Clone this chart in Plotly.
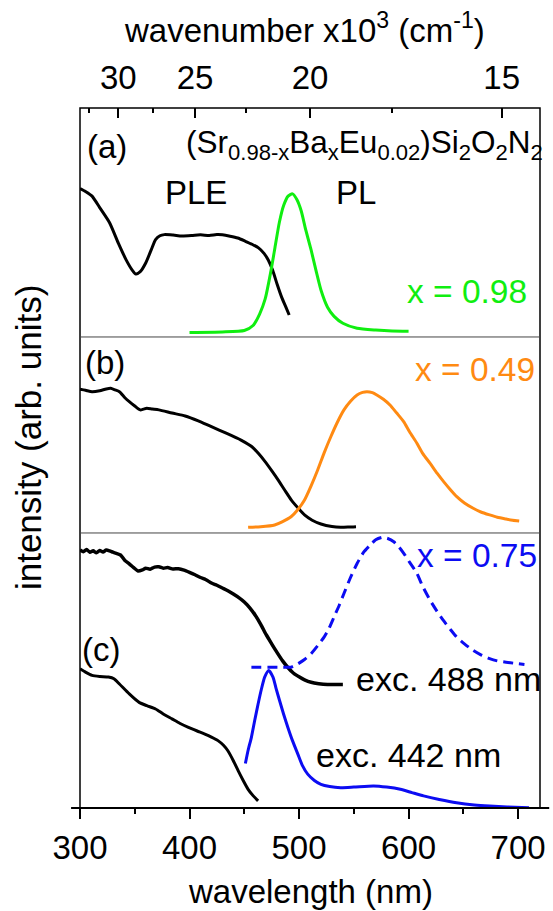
import plotly.graph_objects as go

# ---- spectra: wavelength (nm) and normalised intensity for each panel ----
# (a) x = 0.98
ple_a_nm = [300, 305, 311, 318, 327, 335, 342, 348, 351, 355, 360, 365, 369, 373, 377, 385, 393,
            402, 410, 418, 425, 430, 437, 444, 451, 457, 463, 468, 472, 476, 480, 484, 488, 491]
ple_a = [0.648, 0.635, 0.615, 0.565, 0.499, 0.41, 0.338, 0.29, 0.275, 0.285, 0.323, 0.38, 0.425,
         0.442, 0.447, 0.445, 0.441, 0.443, 0.446, 0.443, 0.447, 0.446, 0.44, 0.432, 0.418, 0.405,
         0.389, 0.365, 0.335, 0.29, 0.23, 0.175, 0.13, 0.096]
pl_a_nm = [400, 430, 450, 458, 464, 469, 474, 478, 482, 486, 490, 494, 498, 502, 506, 511, 516,
           520, 526, 532, 540, 553, 570, 585, 600]
pl_a = [0.02, 0.022, 0.028, 0.05, 0.1, 0.165, 0.28, 0.39, 0.5, 0.575, 0.615, 0.625, 0.6, 0.55,
        0.47, 0.38, 0.28, 0.205, 0.13, 0.09, 0.06, 0.038, 0.03, 0.026, 0.025]

# (b) x = 0.49
ple_b_nm = [300, 305, 311, 318, 324, 328, 332, 336, 341, 345, 350, 355, 358, 361, 366, 372, 384,
            396, 408, 420, 434, 447, 457, 463, 469, 475, 481, 487, 493, 499, 505, 512, 520, 530,
            538, 545, 552]
ple_b = [0.733, 0.728, 0.721, 0.726, 0.735, 0.738, 0.73, 0.721, 0.69, 0.67, 0.648, 0.628, 0.632,
         0.636, 0.632, 0.628, 0.612, 0.597, 0.572, 0.542, 0.508, 0.474, 0.44, 0.405, 0.364, 0.318,
         0.27, 0.218, 0.168, 0.128, 0.092, 0.065, 0.046, 0.033, 0.029, 0.03, 0.032]
pl_b_nm = [453.5, 465, 477.7, 485, 492.7, 499, 505, 511, 517, 523, 529, 535, 541, 547, 553, 558,
           562, 567, 571, 577, 583, 589, 595.5, 601, 607.6, 613, 619.7, 626, 632, 638, 644, 651,
           659, 666, 674, 681, 689, 695, 701]
pl_b = [0.029, 0.032, 0.041, 0.058, 0.083, 0.12, 0.168, 0.24, 0.321, 0.41, 0.491, 0.565, 0.628,
        0.672, 0.704, 0.717, 0.721, 0.716, 0.704, 0.682, 0.653, 0.613, 0.568, 0.515, 0.458, 0.405,
        0.355, 0.305, 0.262, 0.222, 0.185, 0.153, 0.126, 0.107, 0.092, 0.08, 0.071, 0.065, 0.061]

# (c) x = 0.75, excitation spectra and emission under 488 nm and 442 nm excitation
ple_c488_nm = [300, 303, 306, 309, 312, 315, 318, 321, 324, 327, 330, 333, 337, 341, 345, 349, 353,
               357, 360, 364, 368, 372, 376, 380, 385, 390, 395, 400, 405, 410, 415, 420, 425, 430,
               435, 440, 445, 450, 455, 460, 465, 470, 475, 480, 485, 490, 495, 500, 505, 511, 518,
               526, 533, 540]
ple_c488 = [0.938, 0.932, 0.94, 0.93, 0.935, 0.928, 0.936, 0.931, 0.938, 0.935, 0.93, 0.926, 0.92,
            0.9, 0.888, 0.874, 0.862, 0.866, 0.872, 0.868, 0.876, 0.877, 0.872, 0.874, 0.869, 0.87,
            0.865, 0.857, 0.848, 0.838, 0.83, 0.818, 0.81, 0.8, 0.79, 0.778, 0.765, 0.749, 0.728,
            0.701, 0.668, 0.63, 0.597, 0.565, 0.535, 0.51, 0.49, 0.477, 0.466, 0.457, 0.452, 0.449,
            0.449, 0.449]
pl_c488_nm = [456.5, 465, 474.7, 485, 492.8, 498.9, 505, 511, 517, 523, 527, 532, 537, 541, 547,
              553, 559, 565, 570, 576, 581, 586.5, 591, 595.6, 601, 607.6, 613, 619.7, 626, 631.8,
              638, 643.8, 651, 659, 666, 674, 681, 689, 697, 705.8]
pl_c488 = [0.512, 0.512, 0.512, 0.512, 0.512, 0.524, 0.54, 0.561, 0.59, 0.622, 0.65, 0.695, 0.74,
           0.78, 0.838, 0.889, 0.93, 0.956, 0.975, 0.984, 0.98, 0.968, 0.95, 0.926, 0.893, 0.853,
           0.805, 0.755, 0.715, 0.682, 0.65, 0.622, 0.597, 0.573, 0.557, 0.543, 0.535, 0.53, 0.526,
           0.522]
ple_c442_nm = [300, 305, 311, 318, 326, 331, 336, 345, 354, 361, 369, 376, 384, 391, 399, 407, 414,
               420, 426, 431, 435, 440, 444.5, 449, 453.5, 458, 462.6]
ple_c442 = [0.506, 0.494, 0.482, 0.478, 0.476, 0.47, 0.451, 0.415, 0.384, 0.372, 0.36, 0.342,
            0.324, 0.308, 0.293, 0.28, 0.269, 0.258, 0.245, 0.228, 0.208, 0.172, 0.135, 0.1, 0.068,
            0.045, 0.026]
pl_c442_nm = [451, 453.5, 456.5, 459.5, 462.6, 465.5, 468.6, 472.3, 476.2, 479, 482.2, 486, 489.8,
              494, 498.9, 503, 507.9, 514, 520, 528, 538, 550, 568, 580, 592.5, 603, 613.7, 628,
              643.8, 660, 674, 690, 710]
pl_c442 = [0.162, 0.21, 0.257, 0.318, 0.378, 0.43, 0.476, 0.5, 0.476, 0.435, 0.391, 0.34, 0.293,
           0.245, 0.196, 0.155, 0.123, 0.1, 0.086, 0.078, 0.074, 0.076, 0.08, 0.076, 0.068, 0.056,
           0.044, 0.031, 0.019, 0.011, 0.007, 0.004, 0.001]

# axis ticks
wl_ticks = [300, 400, 500, 600, 700]
wl_minor = [350, 450, 550, 650]
wn_ticks = [30, 25, 20, 15]            # x10^3 cm^-1
wn_minor = [32.5, 27.5, 22.5, 17.5]

GREEN = "#10ee10"
ORANGE = "#ff8a12"
BLUE = "#0c0cf2"
BLACK = "#000000"
FONT = "Liberation Sans, Arial, Helvetica, sans-serif"

fig = go.Figure()

def add(xs, ys, color, yaxis, dash="solid", width=3):
    fig.add_trace(go.Scatter(x=xs, y=ys, mode="lines", xaxis="x", yaxis=yaxis,
                             line=dict(color=color, width=width, dash=dash, shape="spline",
                                       smoothing=0.6),
                             showlegend=False, hoverinfo="skip"))

add(ple_a_nm, ple_a, BLACK, "y")
add(pl_a_nm, pl_a, GREEN, "y")
add(ple_b_nm, ple_b, BLACK, "y2")
add(pl_b_nm, pl_b, ORANGE, "y2")
add(ple_c488_nm, ple_c488, BLACK, "y3", width=3.5)
add(pl_c488_nm, pl_c488, BLUE, "y3", dash="10px,6px")
add(ple_c442_nm, ple_c442, BLACK, "y3")
add(pl_c442_nm, pl_c442, BLUE, "y3")

# invisible trace so the top wavenumber axis is drawn
fig.add_trace(go.Scatter(x=[300], y=[0], xaxis="x2", yaxis="y", mode="markers",
                         marker=dict(opacity=0), showlegend=False, hoverinfo="skip"))

# panel domains (bottom to top: c, b, a)
d_c = [0.0, 0.3929]
d_b = [0.3929, 0.6729]
d_a = [0.6729, 1.0]

yax = dict(range=[0, 1], showticklabels=False, ticks="", showgrid=False, zeroline=False,
           showline=False, fixedrange=True)

fig.update_layout(
    width=553, height=911,
    margin=dict(l=80, r=8, t=108, b=103),
    paper_bgcolor="white", plot_bgcolor="white",
    font=dict(family=FONT, color="black", size=33),
    xaxis=dict(range=[300, 720], anchor="y3", side="bottom", showgrid=False, zeroline=False,
               showline=False, tickmode="array", tickvals=wl_ticks, ticks="outside",
               ticklen=10, tickwidth=1.5, tickcolor="black",
               tickfont=dict(size=33, family=FONT),
               minor=dict(tickmode="array", tickvals=wl_minor, ticks="outside", ticklen=5,
                          tickwidth=1.5, tickcolor="black")),
    xaxis2=dict(range=[300, 700], overlaying="x", anchor="y", side="top", showgrid=False,
                zeroline=False, showline=False, tickmode="array",
                tickvals=[1e4 / k for k in wn_ticks], ticktext=[str(k) for k in wn_ticks],
                ticks="inside", ticklen=10, tickwidth=1.5, tickcolor="black",
                ticklabelstandoff=11,
                tickfont=dict(size=33, family=FONT),
                minor=dict(tickmode="array", tickvals=[1e4 / k for k in wn_minor],
                           ticks="inside", ticklen=5, tickwidth=1.5, tickcolor="black")),
    yaxis=dict(domain=d_a, anchor="x", **yax),
    yaxis2=dict(domain=d_b, anchor="x", **yax),
    yaxis3=dict(domain=d_c, anchor="x", **yax),
)

# frame, panel separators and the bottom axis line
shapes = [
    dict(type="rect", xref="paper", yref="paper", x0=0, x1=1, y0=0, y1=1,
         line=dict(color="black", width=1.5)),
    dict(type="line", xref="paper", yref="paper", x0=0, x1=1, y0=d_a[0], y1=d_a[0],
         line=dict(color="#444444", width=1)),
    dict(type="line", xref="paper", yref="paper", x0=0, x1=1, y0=d_b[0], y1=d_b[0],
         line=dict(color="#444444", width=1)),
    dict(type="line", xref="paper", yref="paper", x0=-0.0194, x1=1.02, y0=0, y1=0,
         line=dict(color="black", width=2)),
]
fig.update_layout(shapes=shapes)

def label(text, x, y, color="black", size=33.5, xanchor="center", yanchor="middle", angle=0):
    fig.add_annotation(text=text, x=x, y=y, xref="paper", yref="paper", showarrow=False,
                       xanchor=xanchor, yanchor=yanchor, textangle=angle,
                       font=dict(size=size, color=color, family=FONT))

label("(a)", 0.0591, 0.9447, size=33)
label("(Sr<sub>0.98-x</sub>Ba<sub>x</sub>Eu<sub>0.02</sub>)Si<sub>2</sub>O<sub>2</sub>N<sub>2</sub>",
      0.2258, 0.948, size=31.5, xanchor="left")
label("PLE", 0.2527, 0.8793, size=33)
label("PL", 0.60, 0.8793, size=33)
label("x = 0.98", 0.8409, 0.7376, color=GREEN)
label("(b)", 0.0538, 0.6371, size=33)
label("x = 0.49", 0.8581, 0.6271, color=ORANGE)
label("x = 0.75", 0.8624, 0.3614, color=BLUE)
label("(c)", 0.0462, 0.2271, size=33)
label("exc. 488 nm", 0.80, 0.1843, size=34)
label("exc. 442 nm", 0.714, 0.0757, size=34)

# axis titles
label("intensity (arb. units)", -0.1118, 0.5293, size=35, angle=-90)
label("wavelength (nm)", 0.5, -0.1186, size=33)
label("wavenumber x10<sup>3</sup> (cm<sup>-1</sup>)", 0.4875, 1.114, size=33)

fig.write_html("out.html")
